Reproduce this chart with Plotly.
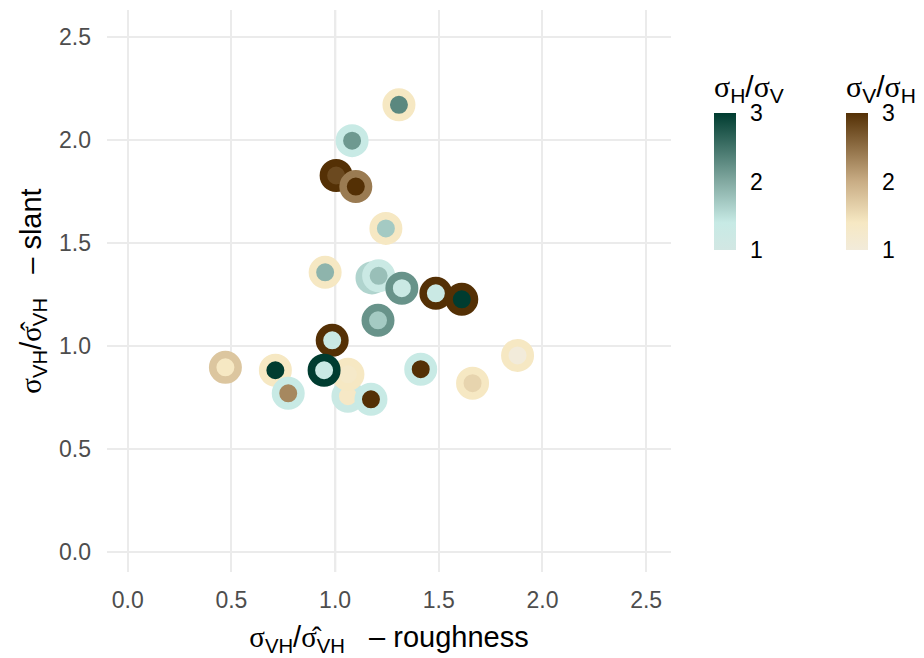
import plotly.graph_objects as go
from plotly.colors import sample_colorscale

# Ratio of each point's roughness / slant estimate to the reference value
x_rough = [1.308, 1.082, 1.005, 1.100, 1.245, 0.952, 1.178, 1.210, 1.322, 1.486, 1.611,
           1.207, 0.986, 0.471, 0.712, 1.062, 1.062, 0.947, 0.774, 1.173, 1.413, 1.663, 1.880]
y_slant = [2.170, 1.996, 1.827, 1.773, 1.570, 1.357, 1.330, 1.340, 1.280, 1.255, 1.226,
           1.124, 1.027, 0.896, 0.882, 0.756, 0.862, 0.882, 0.770, 0.741, 0.887, 0.819, 0.954]

# Outer ring: which anisotropy dominates ("H" -> sigma_H/sigma_V, "V" -> sigma_V/sigma_H) and its size
outer_dir = ["V", "H", "V", "V", "V", "V", "H", "H", "H", "V", "V",
             "H", "V", "V", "V", "H", "V", "H", "H", "H", "H", "V", "V"]
outer_val = [1.4, 1.35, 3.0, 2.4, 1.4, 1.4, 1.6, 1.3, 2.2, 3.0, 3.0,
             2.2, 3.0, 1.75, 1.4, 1.3, 1.4, 3.0, 1.35, 1.35, 1.35, 1.4, 1.4]

# Inner dot: same encoding for the second component
inner_dir = ["H", "H", "V", "V", "H", "H", "H", "H", "H", "H", "H",
             "H", "H", "V", "H", "V", "V", "H", "V", "V", "V", "V", "V"]
inner_val = [2.3, 2.15, 2.8, 3.0, 1.7, 1.9, 1.7, 1.8, 1.3, 1.3, 3.0,
             1.7, 1.3, 1.4, 3.0, 1.35, 1.3, 1.3, 2.3, 3.0, 3.0, 1.6, 1.0]

cb_ticks = [1, 2, 3]

teal_scale = [[0.0, "#d2e7e3"], [0.2, "#c7eae5"], [0.5, "#82a9a1"], [1.0, "#003c30"]]
brown_scale = [[0.0, "#f2ebda"], [0.2, "#f6e8c3"], [0.5, "#c9ad85"], [1.0, "#543005"]]


def to_colour(direction, value):
    t = (min(max(value, 1.0), 3.0) - 1.0) / 2.0
    scale = teal_scale if direction == "H" else brown_scale
    return sample_colorscale(scale, [t])[0]


ring_colours = [to_colour(d, v) for d, v in zip(outer_dir, outer_val)]
dot_colours = [to_colour(d, v) for d, v in zip(inner_dir, inner_val)]

SIG = '<span style="font-family:Liberation Serif">σ</span>'
SIG_HAT = '<span style="font-family:Liberation Serif">σ\u0302</span>'

# plot-area geometry in pixels (used to place the colour bars)
FIG_W, FIG_H = 924, 658
M_L, M_R, M_T, M_B = 107, 252, 10, 86
PLOT_W = FIG_W - M_L - M_R
PLOT_H = FIG_H - M_T - M_B
BAR_PX = 134          # height of each colour bar
TITLE_PX = 45         # room taken by a colour-bar title
BAR_BOTTOM_PX = 250   # bottom edge of the bars, from the top of the figure
BAR_THICK = 22

fig = go.Figure()

fig.add_trace(go.Scatter(
    x=x_rough, y=y_slant, mode="markers", showlegend=False, hoverinfo="skip",
    marker=dict(size=25.5, color=dot_colours, opacity=1,
                line=dict(color=ring_colours, width=7.5)),
))

bar_y0 = (FIG_H - M_B - BAR_BOTTOM_PX) / PLOT_H
bar_len = BAR_PX / PLOT_H

for scale, title, bar_left_px in [(teal_scale, f"{SIG}<sub>H</sub>/{SIG}<sub>V</sub>", 714),
                                  (brown_scale, f"{SIG}<sub>V</sub>/{SIG}<sub>H</sub>", 846)]:
    xpos = (bar_left_px - M_L) / PLOT_W
    fig.add_trace(go.Scatter(
        x=[None], y=[None], mode="markers", showlegend=False, hoverinfo="skip",
        marker=dict(color=[1], cmin=1, cmax=3, colorscale=scale, showscale=True,
                    colorbar=dict(
                        x=xpos, xanchor="left", xpad=0, ypad=0,
                        y=bar_y0, yanchor="bottom", len=BAR_PX + TITLE_PX, lenmode="pixels",
                        thickness=BAR_THICK, outlinewidth=0,
                        tickvals=cb_ticks, ticktext=[str(t) for t in cb_ticks],
                        ticks="outside", ticklen=10, tickcolor="rgba(0,0,0,0)",
                        tickfont=dict(size=23, color="black"),
                        title=dict(text=title, side="top",
                                   font=dict(size=30, color="black")),
                    )),
    ))
    # short white tick dashes on both edges of the bar
    for v in cb_ticks[1:]:
        ty = bar_y0 + bar_len * (v - cb_ticks[0]) / (cb_ticks[-1] - cb_ticks[0])
        for x0px, x1px in [(bar_left_px, bar_left_px + 4),
                           (bar_left_px + BAR_THICK - 4, bar_left_px + BAR_THICK)]:
            fig.add_shape(type="line", xref="paper", yref="paper",
                          x0=(x0px - M_L) / PLOT_W, x1=(x1px - M_L) / PLOT_W, y0=ty, y1=ty,
                          line=dict(color="white", width=1), layer="above")

fig.add_shape(type="line", xref="x", yref="paper", x0=1, x1=1, y0=0, y1=1,
              line=dict(color="#b3b3b3", width=2), layer="below")
fig.add_shape(type="line", xref="paper", yref="y", x0=0, x1=1, y0=1, y1=1,
              line=dict(color="#b3b3b3", width=2), layer="below")

axis_common = dict(
    showgrid=True, gridcolor="#ebebeb", gridwidth=1.6, zeroline=False,
    showline=False, ticks="", tickfont=dict(size=23, color="#4d4d4d"),
    tickvals=[0, 0.5, 1, 1.5, 2, 2.5], ticktext=["0.0", "0.5", "1.0", "1.5", "2.0", "2.5"],
)

fig.update_layout(
    width=FIG_W, height=FIG_H,
    margin=dict(l=M_L, r=M_R, t=M_T, b=M_B),
    paper_bgcolor="white", plot_bgcolor="white",
    font=dict(family="Liberation Sans, Arial, sans-serif", color="black"),
    xaxis=dict(range=[-0.1, 2.62], ticklabelstandoff=12,
               title=dict(text=f"{SIG}<sub>VH</sub>/{SIG_HAT}<sub>VH</sub>   – roughness",
                          font=dict(size=29), standoff=14),
               **axis_common),
    yaxis=dict(range=[-0.097, 2.63], ticklabelstandoff=15,
               title=dict(text=f"{SIG}<sub>VH</sub>/{SIG_HAT}<sub>VH</sub>   – slant",
                          font=dict(size=29), standoff=8),
               **axis_common),
)

fig.write_html("out.html")
